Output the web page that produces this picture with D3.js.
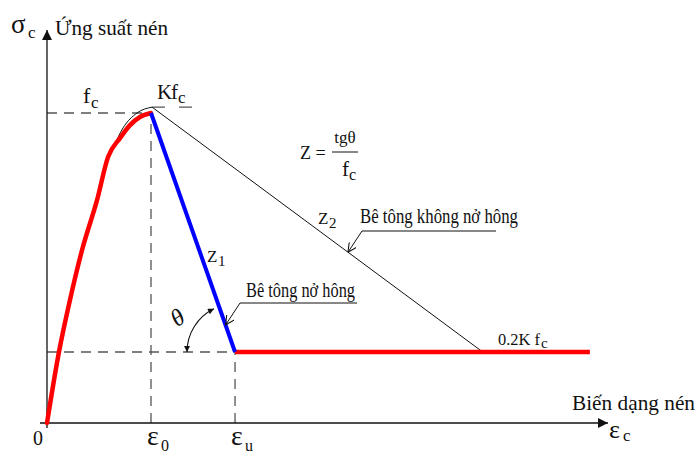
<!DOCTYPE html>
<html>
<head>
<meta charset="utf-8">
<script src="https://cdn.jsdelivr.net/npm/d3@7"></script>
<style>
  html, body { margin: 0; padding: 0; background: #fff; }
  svg { display: block; }
  text { font-family: "Liberation Serif", "Times New Roman", serif; fill: #111; }
</style>
</head>
<body>
<svg id="chart" width="699" height="460"></svg>
<script>
// Strain is normalised by ε0, stress by fc.
const strainMarks = [
  { name: "0", sub: "", v: 0 },
  { name: "ε", sub: "0", v: 1.0 },
  { name: "ε", sub: "u", v: 1.808 }
];
const axisExtent = { strain: 5.394, stress: 1.268 };

// Unconfined concrete (red): ascending branch up to fc at ε0
const unconfinedStrain = [0, 0.115, 0.221, 0.337, 0.481, 0.587, 0.702, 0.798, 0.894, 1.0];
const unconfinedStress = [0, 0.229, 0.397, 0.558, 0.719, 0.858, 0.919, 0.961, 0.987, 1.0];

// Confined concrete (thin black): enhanced peak Kfc
const confinedStrain = [0.587, 0.625, 0.731, 0.865, 1.01];
const confinedStress = [0.858, 0.881, 0.952, 1.0, 1.019];
const confinedEnd = [4.19, 0.229];

// Descending branch Z1 (blue) and residual plateau 0.2Kfc (red)
const softeningStrain = [1.0, 1.808];
const softeningStress = [1.0, 0.229];
const residualStrain = [1.808, 5.22];
const residualStress = [0.229, 0.229];

const peakStress = 1.0;
const peakConfined = 1.019;
const residual = 0.229;

const svg = d3.select("#chart");
const x = d3.scaleLinear().domain([0, 1]).range([47, 151]);
const y = d3.scaleLinear().domain([0, 1]).range([423, 113]);

const zip = (a, b) => a.map((v, i) => [v, b[i]]);
const line = d3.line().x(d => x(d[0])).y(d => y(d[1]));
const smooth = d3.line().x(d => x(d[0])).y(d => y(d[1])).curve(d3.curveMonotoneX);

// markers
const defs = svg.append("defs");
defs.append("marker").attr("id", "solid").attr("viewBox", "0 0 10 10")
  .attr("refX", 10).attr("refY", 5).attr("markerWidth", 24).attr("markerHeight", 10)
  .attr("markerUnits", "userSpaceOnUse").attr("orient", "auto-start-reverse")
  .append("path").attr("d", "M0,0 L10,5 L0,10 Z").attr("fill", "#111");
defs.append("marker").attr("id", "yarrow").attr("viewBox", "0 0 10 10")
  .attr("refX", 10).attr("refY", 5).attr("markerWidth", 15).attr("markerHeight", 10)
  .attr("markerUnits", "userSpaceOnUse").attr("orient", "auto")
  .append("path").attr("d", "M0,0 L10,5 L0,10 Z").attr("fill", "#111");
defs.append("marker").attr("id", "open").attr("viewBox", "0 0 10 10")
  .attr("refX", 10).attr("refY", 5).attr("markerWidth", 10).attr("markerHeight", 9)
  .attr("markerUnits", "userSpaceOnUse").attr("orient", "auto")
  .append("path").attr("d", "M0,0 L10,5 L0,10").attr("fill", "none")
  .attr("stroke", "#111").attr("stroke-width", 1.2);
defs.append("marker").attr("id", "small").attr("viewBox", "0 0 10 10")
  .attr("refX", 10).attr("refY", 5).attr("markerWidth", 9).attr("markerHeight", 6)
  .attr("markerUnits", "userSpaceOnUse").attr("orient", "auto-start-reverse")
  .append("path").attr("d", "M0,0 L10,5 L0,10 Z").attr("fill", "#111");

// reference dashed lines
const dash = svg.append("g").attr("stroke", "#555").attr("stroke-width", 1.3)
  .attr("stroke-dasharray", "10,7").attr("fill", "none");
dash.append("path").attr("d", line([[0, peakStress], [1, peakStress]]));
dash.append("path").attr("d", line([[1, 0], [1, peakStress]]));
dash.append("path").attr("d", line([[0, residual], [strainMarks[2].v, residual]]));
dash.append("path").attr("d", line([[strainMarks[2].v, 0], [strainMarks[2].v, residual]]));
dash.append("path").attr("d", line([[1.01, peakConfined], [1.42, peakConfined]]))
  .attr("stroke-dasharray", "13,14");

// axes
const ax = svg.append("g").attr("stroke", "#111").attr("stroke-width", 1.3).attr("fill", "none");
ax.append("line").attr("x1", x(0)).attr("x2", x(0)).attr("y1", y(0) + 5).attr("y2", y(axisExtent.stress))
  .attr("marker-end", "url(#yarrow)");
ax.append("line").attr("x1", x(0) - 7).attr("x2", x(axisExtent.strain)).attr("y1", y(0)).attr("y2", y(0))
  .attr("marker-end", "url(#solid)");

// confined curve (thin black)
svg.append("path").attr("fill", "none").attr("stroke", "#111").attr("stroke-width", 1)
  .attr("d", smooth(zip(confinedStrain, confinedStress)));
svg.append("path").attr("fill", "none").attr("stroke", "#111").attr("stroke-width", 1)
  .attr("d", line([[confinedStrain[confinedStrain.length - 1], confinedStress[confinedStress.length - 1]], confinedEnd]));

// unconfined curves
svg.append("path").attr("fill", "none").attr("stroke", "#ff0000").attr("stroke-width", 4.5)
  .attr("stroke-linecap", "round")
  .attr("d", smooth(zip(unconfinedStrain, unconfinedStress)));
svg.append("path").attr("fill", "none").attr("stroke", "#ff0000").attr("stroke-width", 4.5)
  .attr("d", line(zip(residualStrain, residualStress)));
svg.append("path").attr("fill", "none").attr("stroke", "#0000ff").attr("stroke-width", 4)
  .attr("d", line(zip(softeningStrain, softeningStress)));

// angle θ arc at the end of the softening branch
const cx = x(strainMarks[2].v), cy = y(residual);
const arc = d3.path();
arc.arc(cx, cy, 48, Math.PI, Math.PI * 244 / 180, false);
svg.append("path").attr("d", arc.toString()).attr("fill", "none")
  .attr("stroke", "#111").attr("stroke-width", 1.1)
  .attr("marker-start", "url(#small)").attr("marker-end", "url(#small)");

// leader lines with labels
function leader(x0, x1, yU, tip) {
  svg.append("path").attr("fill", "none").attr("stroke", "#111").attr("stroke-width", 1)
    .attr("d", `M${x1},${yU} L${x0},${yU} L${tip[0]},${tip[1]}`)
    .attr("marker-end", "url(#open)");
}
leader(240, 357, 303, [x(1.0 + (1.808 - 1.0) * ((1 - 0.316) / (1 - 0.229))), y(0.316)]);
leader(362, 496, 231, [348, y(1.019 + (0.229 - 1.019) * ((348 - x(1.01)) / (x(4.19) - x(1.01))))]);

// text helper
function txt(s, px, py, size, opts = {}) {
  const t = svg.append("text").attr("x", px).attr("y", py).attr("font-size", size).text(s);
  if (opts.len) t.attr("textLength", opts.len).attr("lengthAdjust", "spacingAndGlyphs");
  if (opts.italic) t.attr("font-style", "italic");
  if (opts.anchor) t.attr("text-anchor", opts.anchor);
  return t;
}

// axis titles
txt("σ", 11, 33, 27);
txt("c", 28, 38, 17);
txt("Ứng suất nén", 55, 35, 21, { len: 113 });
txt("Biến dạng nén", 572, 410, 21, { len: 123 });
txt("ε", 609, 438, 26);
txt("c", 623, 441, 17);

// strain labels
strainMarks.forEach(m => {
  if (m.sub === "") {
    txt(m.name, x(m.v) - 14, 445, 20);
  } else {
    txt(m.name, x(m.v) - 4, 445, 28);
    txt(m.sub, x(m.v) + 10, 451, 16);
  }
});

// stress labels
txt("f", 83, 103, 22);
txt("c", 91, 108, 17);
txt("K", 157, 99, 21);
txt("f", 171, 99, 21);
txt("c", 178, 103, 17);
txt("0.2K f", 498, 345, 17, { len: 42 });
txt("c", 541, 348, 15);

// stiffness labels
txt("Z =", 300, 159, 18);
txt("tgθ", 345, 143, 17, { anchor: "middle" });
svg.append("line").attr("x1", 332).attr("x2", 358).attr("y1", 152).attr("y2", 152)
  .attr("stroke", "#111").attr("stroke-width", 1);
txt("f", 342, 176, 21);
txt("c", 349, 180, 16);
txt("Z", 318, 224, 17);
txt("2", 329, 228, 15);
txt("Z", 207, 262, 17);
txt("1", 218, 266, 15);

// angle label
txt("θ", 0, 0, 24, { italic: true, anchor: "middle" })
  .attr("transform", "translate(182,324) rotate(-35)");

// annotation labels
txt("Bê tông nở hông", 246, 297, 20, { len: 109 });
txt("Bê tông không nở hông", 360, 223, 20, { len: 158 });
</script>
</body>
</html>
